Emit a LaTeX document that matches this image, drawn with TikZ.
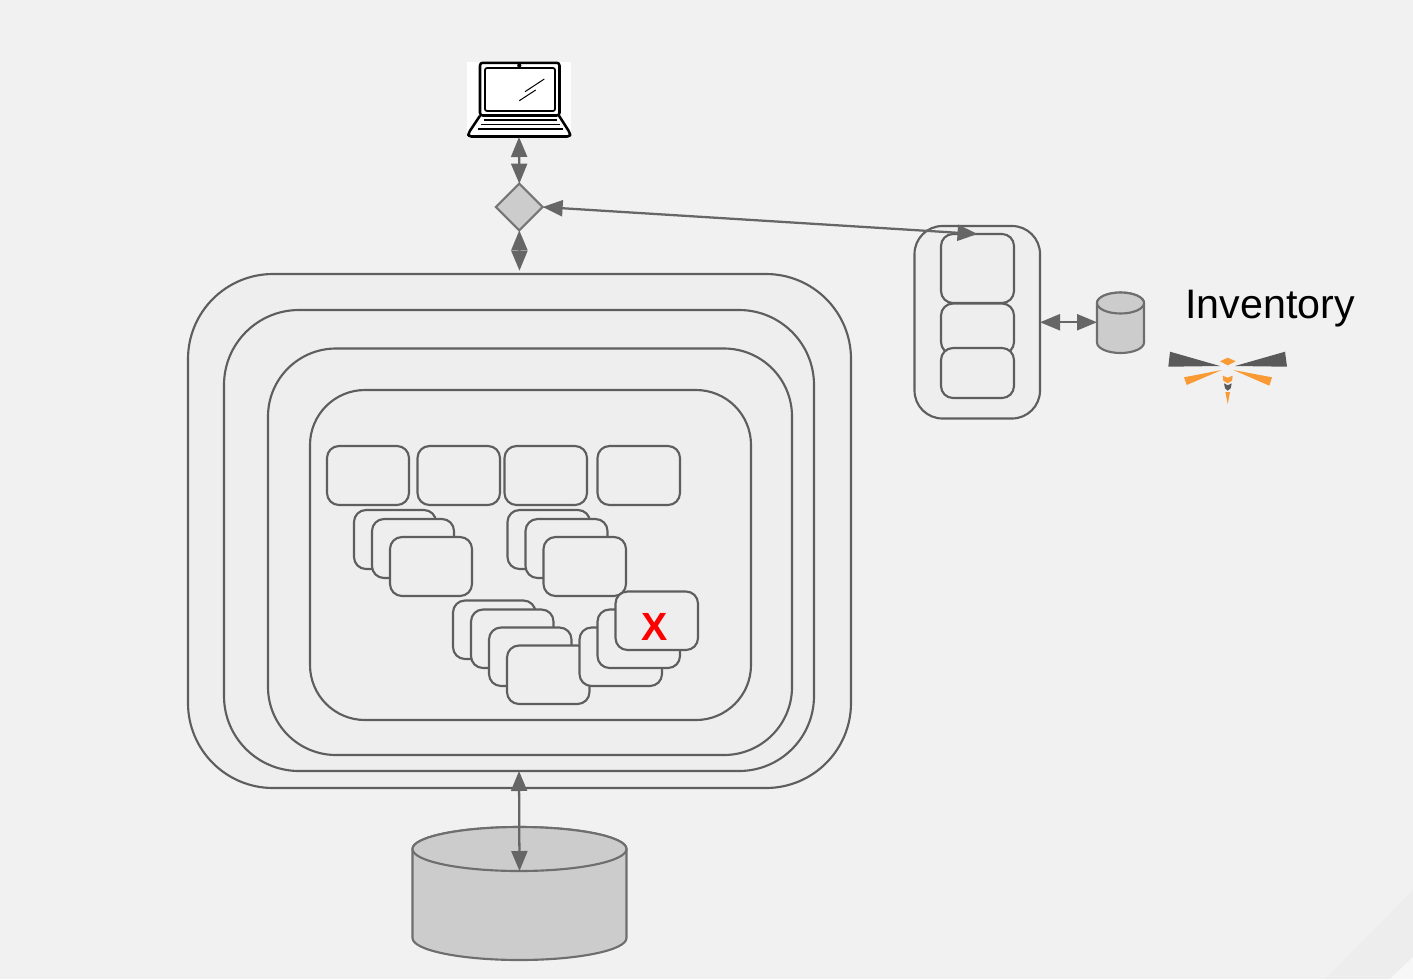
\documentclass[tikz,border=0pt]{standalone}
\usepackage{fontspec}
\setmainfont{Liberation Sans}
\usetikzlibrary{arrows.meta,shapes.geometric}
\definecolor{bg}{HTML}{F1F1F1}
\definecolor{boxfill}{HTML}{EEEEEE}
\definecolor{stroke}{HTML}{5E5E5E}
\definecolor{arrowc}{HTML}{666666}
\definecolor{cylfill}{HTML}{CCCCCC}
\definecolor{wing}{HTML}{5A5A5A}
\definecolor{amber}{HTML}{F99A35}
\tikzset{
  rbox/.style={draw=stroke,fill=boxfill,line width=1.6pt,inner sep=0pt,outer sep=0pt},
  conn/.style={draw=arrowc,line width=1.7pt,{Triangle[length=15pt,width=12pt]}-{Triangle[length=15pt,width=12pt]}},
  cylshape/.style={draw=#1,fill=cylfill,line width=1.6pt},
  laptopline/.style={draw=black,line width=1.1pt},
  laptopbold/.style={draw=black,line width=1.9pt,line join=round},
  wingdark/.style={fill=wing},
  wingamber/.style={fill=amber},
}
% name, x1, y1, x2, y2, radius (pixels)
\newcommand{\rb}[6]{\node[rbox,minimum width={(#4-#2)*0.75pt},minimum height={(#5-#3)*0.75pt},rounded corners={#6*0.75pt}] (#1) at ({(#2+#4)/2},{(#3+#5)/2}) {};}
% name, x1, y1, x2, y2, ry (pixels)
\newcommand{\cyl}[6]{%
  \node[inner sep=0pt,outer sep=0pt,minimum width={(#4-#2)*0.75pt},minimum height={(#5-#3)*0.75pt}] (#1) at ({(#2+#4)/2},{(#3+#5)/2}) {};
  \draw[cylshape=stroke!90!white] (#2,#3+#6) -- (#2,#5-#6) arc[start angle=180,end angle=360,x radius={(#4-#2)/2*0.75pt},y radius={#6*0.75pt}] -- (#4,#3+#6) arc[start angle=0,end angle=180,x radius={(#4-#2)/2*0.75pt},y radius={#6*0.75pt}] -- cycle;
  \draw[cylshape=stroke!90!white] (#2,#3+#6) arc[start angle=180,end angle=540,x radius={(#4-#2)/2*0.75pt},y radius={#6*0.75pt}];
}
\begin{document}
\begin{tikzpicture}[x=0.75pt,y=-0.75pt]
\useasboundingbox (0,0) rectangle (1413,979);
\fill[bg] (0,0) rectangle (1413,979);
\fill[black!7] (1325,979) -- (1413,890) -- (1413,957) -- (1390,979) -- cycle;
\fill[black!3] (1390,979) -- (1413,957) -- (1413,979) -- cycle;

% laptop
\node[fill=white,inner sep=0pt,outer sep=0pt,minimum width=77.5pt,minimum height=56.25pt] (laptop) at (519,99.5) {};
\draw[laptopbold,rounded corners=2pt] (480,115.5) -- (480,62.8) -- (559.5,62.8) -- (559.5,115.5) -- cycle;
\draw[laptopline,line width=1.3pt,rounded corners=1.5pt] (485,68) rectangle (555,111);
\fill[black] (519.3,65.5) circle[radius=1.6pt];
\draw[laptopbold,rounded corners=2pt] (480,115.7) -- (468.5,133) -- (468.5,136.5) -- (570,136.5) -- (570,133) -- (559,115.7);
\draw[laptopline] (483.5,120) -- (557,120) (481,124.5) -- (559.5,124.5) (477.5,129) -- (563,129);
\draw[black,line width=.75pt] (525,91.7) -- (544.3,79) (519.3,100.7) -- (535.7,90);

% diamond
\node[diamond,aspect=1,draw=stroke!85!white,fill=cylfill,line width=1.6pt,inner sep=0pt,outer sep=0pt,minimum width=35pt,minimum height=35pt] (gate) at (519.3,207) {};

% nested frames
\rb{f1}{188}{274}{851}{788}{85}
\rb{f2}{224}{310}{814}{771}{75}
\rb{f3}{268}{348.5}{792}{755}{68}
\rb{f4}{310}{390}{751}{720}{55}
% row
\rb{a1}{327}{446}{409}{505}{12}
\rb{a2}{417.5}{446}{500}{505}{12}
\rb{a3}{504.5}{446}{587}{505}{12}
\rb{a4}{597.5}{446}{680}{505}{12}
% stacks
\rb{b1}{354}{510}{436}{569}{12}
\rb{b2}{372}{519}{454}{578}{12}
\rb{b3}{390}{537}{472}{596}{12}
\rb{c1}{507.5}{510}{590}{569}{12}
\rb{c2}{525.5}{519}{607.5}{578}{12}
\rb{c3}{543.5}{537}{626}{596}{12}
\rb{d1}{453}{600.5}{535.5}{659}{12}
\rb{d2}{471}{609.5}{553.5}{668}{12}
\rb{d3}{489}{627.5}{571.5}{686}{12}
\rb{d4}{507}{645.5}{589.5}{704}{12}
\rb{e1}{579.5}{627.5}{662}{686}{12}
\rb{e2}{597.5}{609.5}{680}{668}{12}
\rb{e3}{615.5}{591.5}{698}{650}{12}
\node[text=red,font=\bfseries,inner sep=0pt] (x) at (655,627) {\fontsize{29.5}{29.5}\selectfont X};

% inventory stack
\rb{g0}{914.5}{226}{1040}{418.5}{28}
\rb{g1}{941}{234}{1014}{303}{12}
\rb{g2}{941}{303.5}{1014}{354}{12}
\rb{g3}{941}{348}{1014}{398}{12}

% cylinders
\cyl{db}{412.5}{827}{626.5}{960}{22}
\coordinate (dbfront) at (519.5,871);
\cyl{store}{1097}{292.5}{1144}{353}{10.5}

% connectors
\draw[conn] (laptop.south) -- (gate.north);
\draw[conn,shorten >=2.5pt] (gate.south) -- (f1.north);
\draw[conn] (f2.south) -- (dbfront);
\draw[conn] (gate.east) -- (g1.north);
\draw[conn] (g0.east) -- (store.west |- g0.east);

% label
\node[anchor=base,inner sep=0pt,font=\fontsize{30.9}{30.9}\selectfont] (inv) at (1270,318) {Inventory};

% dragonfly logo
\fill[wingdark] (1168.3,366.7) -- (1170,351.7) -- (1220,366) -- cycle;
\fill[wingdark] (1235,366) -- (1285,351.7) -- (1287,366.7) -- cycle;
\fill[wingamber] (1220,361.3) -- (1227.7,357.7) -- (1235.7,361.3) -- (1227.7,365.3) -- cycle;
\fill[wingamber] (1184,377.3) -- (1221.7,370) -- (1186.7,385) -- cycle;
\fill[wingamber] (1233.3,370) -- (1272,377.3) -- (1269.3,385.7) -- cycle;
\fill[wingamber] (1222.7,375.7) -- (1227.7,377.7) -- (1232.7,375.7) -- (1232,380.7) -- (1227.7,383.3) -- (1223.3,380.7) -- cycle;
\fill[wingdark] (1224,383.3) -- (1227.7,385.3) -- (1231.7,383.3) -- (1230.7,388.3) -- (1227.7,390.7) -- (1225,388.3) -- cycle;
\fill[wingamber] (1225.3,392) -- (1230,392) -- (1227.7,404) -- cycle;
\end{tikzpicture}
\end{document}
